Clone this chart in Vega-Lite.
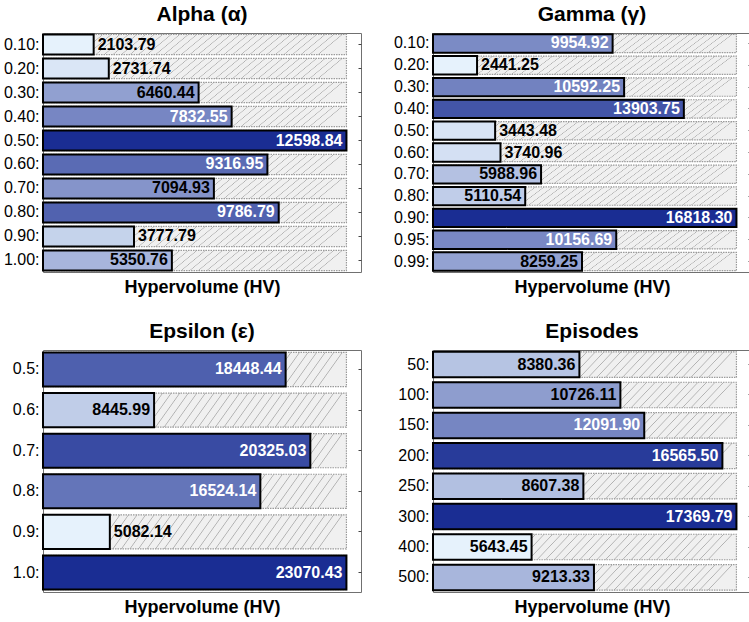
{
  "$schema": "https://vega.github.io/schema/vega-lite/v6.json",
  "padding": {"left": 2, "top": 3, "right": 0, "bottom": 0},
  "background": "white",
  "data": {
    "values": [
      {"panel": "Alpha", "param": "0.10", "hv": 2103.79},
      {"panel": "Alpha", "param": "0.20", "hv": 2731.74},
      {"panel": "Alpha", "param": "0.30", "hv": 6460.44},
      {"panel": "Alpha", "param": "0.40", "hv": 7832.55},
      {"panel": "Alpha", "param": "0.50", "hv": 12598.84},
      {"panel": "Alpha", "param": "0.60", "hv": 9316.95},
      {"panel": "Alpha", "param": "0.70", "hv": 7094.93},
      {"panel": "Alpha", "param": "0.80", "hv": 9786.79},
      {"panel": "Alpha", "param": "0.90", "hv": 3777.79},
      {"panel": "Alpha", "param": "1.00", "hv": 5350.76},
      {"panel": "Gamma", "param": "0.10", "hv": 9954.92},
      {"panel": "Gamma", "param": "0.20", "hv": 2441.25},
      {"panel": "Gamma", "param": "0.30", "hv": 10592.25},
      {"panel": "Gamma", "param": "0.40", "hv": 13903.75},
      {"panel": "Gamma", "param": "0.50", "hv": 3443.48},
      {"panel": "Gamma", "param": "0.60", "hv": 3740.96},
      {"panel": "Gamma", "param": "0.70", "hv": 5988.96},
      {"panel": "Gamma", "param": "0.80", "hv": 5110.54},
      {"panel": "Gamma", "param": "0.90", "hv": 16818.30},
      {"panel": "Gamma", "param": "0.95", "hv": 10156.69},
      {"panel": "Gamma", "param": "0.99", "hv": 8259.25},
      {"panel": "Epsilon", "param": "0.5", "hv": 18448.44},
      {"panel": "Epsilon", "param": "0.6", "hv": 8445.99},
      {"panel": "Epsilon", "param": "0.7", "hv": 20325.03},
      {"panel": "Epsilon", "param": "0.8", "hv": 16524.14},
      {"panel": "Epsilon", "param": "0.9", "hv": 5082.14},
      {"panel": "Epsilon", "param": "1.0", "hv": 23070.43},
      {"panel": "Episodes", "param": "50", "hv": 8380.36},
      {"panel": "Episodes", "param": "100", "hv": 10726.11},
      {"panel": "Episodes", "param": "150", "hv": 12091.90},
      {"panel": "Episodes", "param": "200", "hv": 16565.50},
      {"panel": "Episodes", "param": "250", "hv": 8607.38},
      {"panel": "Episodes", "param": "300", "hv": 17369.79},
      {"panel": "Episodes", "param": "400", "hv": 5643.45},
      {"panel": "Episodes", "param": "500", "hv": 9213.33}
    ]
  },
  "columns": 2,
  "spacing": {"row": 23, "column": 30},
  "concat": [
    {
      "title": "Alpha (α)",
      "width": 318,
      "height": 239,
      "transform": [
        {"filter": "datum.panel === 'Alpha'"},
        {"joinaggregate": [{"op": "max", "field": "hv", "as": "hvMax"}, {"op": "min", "field": "hv", "as": "hvMin"}]}
      ],
      "layer": [
        {
          "mark": {"type": "bar", "stroke": "#9a9a9a", "strokeWidth": 1.2, "strokeDash": [1.5, 1]},
          "encoding": {
            "x": {"field": "hvMax", "type": "quantitative", "scale": {"domain": [0, 13203], "nice": false, "zero": true},
                  "axis": {"title": "Hypervolume (HV)", "labels": false, "ticks": false, "domain": false, "grid": false}},
            "y": {"field": "param", "type": "nominal", "sort": null, "scale": {"paddingInner": 0.16, "paddingOuter": 0.06},
                  "axis": {"orient": "right", "title": null, "labels": false, "domain": false, "ticks": true, "tickSize": -3, "tickColor": "#444", "grid": false}}
          }
        },
        {
          "mark": {"type": "bar", "stroke": "black", "strokeWidth": 2, "strokeDash": [1, 0]},
          "encoding": {
            "x": {"field": "hv", "type": "quantitative"},
            "y": {"field": "param", "type": "nominal", "sort": null,
                  "axis": {"orient": "left", "title": null, "ticks": false, "domain": false, "labelExpr": "datum.label + ':'"}},
            "color": {"field": "hv", "type": "quantitative", "legend": null,
                      "scale": {"range": ["#e6f2fc", "#1a2d93"], "interpolate": "rgb", "nice": false, "zero": false}}
          }
        },
        {
          "transform": [{"filter": "datum.hv / datum.hvMax > 0.3"}],
          "mark": {"type": "text", "align": "right", "baseline": "middle", "dx": -4, "fontSize": 16, "fontWeight": "bold"},
          "encoding": {
            "x": {"field": "hv", "type": "quantitative"},
            "y": {"field": "param", "type": "nominal", "sort": null, "axis": null},
            "text": {"field": "hv", "type": "quantitative", "format": ".2f"},
            "color": {"condition": {"test": "(datum.hv - datum.hvMin) / (datum.hvMax - datum.hvMin) > 0.5", "value": "white"}, "value": "black"}
          }
        },
        {
          "transform": [{"filter": "datum.hv / datum.hvMax <= 0.3"}],
          "mark": {"type": "text", "align": "left", "baseline": "middle", "dx": 4, "fontSize": 16, "fontWeight": "bold", "color": "black"},
          "encoding": {
            "x": {"field": "hv", "type": "quantitative"},
            "y": {"field": "param", "type": "nominal", "sort": null, "axis": null},
            "text": {"field": "hv", "type": "quantitative", "format": ".2f"}
          }
        }
      ],
      "resolve": {"axis": {"y": "independent"}}
    },
    {
      "title": "Gamma (γ)",
      "width": 318,
      "height": 239,
      "transform": [
        {"filter": "datum.panel === 'Gamma'"},
        {"joinaggregate": [{"op": "max", "field": "hv", "as": "hvMax"}, {"op": "min", "field": "hv", "as": "hvMin"}]}
      ],
      "layer": [
        {
          "mark": {"type": "bar", "stroke": "#9a9a9a", "strokeWidth": 1.2, "strokeDash": [1.5, 1]},
          "encoding": {
            "x": {"field": "hvMax", "type": "quantitative", "scale": {"domain": [0, 17625], "nice": false, "zero": true},
                  "axis": {"title": "Hypervolume (HV)", "labels": false, "ticks": false, "domain": false, "grid": false}},
            "y": {"field": "param", "type": "nominal", "sort": null, "scale": {"paddingInner": 0.16, "paddingOuter": 0.06},
                  "axis": {"orient": "right", "title": null, "labels": false, "domain": false, "ticks": true, "tickSize": -3, "tickColor": "#444", "grid": false}}
          }
        },
        {
          "mark": {"type": "bar", "stroke": "black", "strokeWidth": 2, "strokeDash": [1, 0]},
          "encoding": {
            "x": {"field": "hv", "type": "quantitative"},
            "y": {"field": "param", "type": "nominal", "sort": null,
                  "axis": {"orient": "left", "title": null, "ticks": false, "domain": false, "labelExpr": "datum.label + ':'"}},
            "color": {"field": "hv", "type": "quantitative", "legend": null,
                      "scale": {"range": ["#e6f2fc", "#1a2d93"], "interpolate": "rgb", "nice": false, "zero": false}}
          }
        },
        {
          "transform": [{"filter": "datum.hv / datum.hvMax > 0.3"}],
          "mark": {"type": "text", "align": "right", "baseline": "middle", "dx": -4, "fontSize": 16, "fontWeight": "bold"},
          "encoding": {
            "x": {"field": "hv", "type": "quantitative"},
            "y": {"field": "param", "type": "nominal", "sort": null, "axis": null},
            "text": {"field": "hv", "type": "quantitative", "format": ".2f"},
            "color": {"condition": {"test": "(datum.hv - datum.hvMin) / (datum.hvMax - datum.hvMin) > 0.5", "value": "white"}, "value": "black"}
          }
        },
        {
          "transform": [{"filter": "datum.hv / datum.hvMax <= 0.3"}],
          "mark": {"type": "text", "align": "left", "baseline": "middle", "dx": 4, "fontSize": 16, "fontWeight": "bold", "color": "black"},
          "encoding": {
            "x": {"field": "hv", "type": "quantitative"},
            "y": {"field": "param", "type": "nominal", "sort": null, "axis": null},
            "text": {"field": "hv", "type": "quantitative", "format": ".2f"}
          }
        }
      ],
      "resolve": {"axis": {"y": "independent"}}
    },
    {
      "title": "Epsilon (ε)",
      "width": 318,
      "height": 242,
      "transform": [
        {"filter": "datum.panel === 'Epsilon'"},
        {"joinaggregate": [{"op": "max", "field": "hv", "as": "hvMax"}, {"op": "min", "field": "hv", "as": "hvMin"}]}
      ],
      "layer": [
        {
          "mark": {"type": "bar", "stroke": "#9a9a9a", "strokeWidth": 1.2, "strokeDash": [1.5, 1]},
          "encoding": {
            "x": {"field": "hvMax", "type": "quantitative", "scale": {"domain": [0, 24178], "nice": false, "zero": true},
                  "axis": {"title": "Hypervolume (HV)", "labels": false, "ticks": false, "domain": false, "grid": false}},
            "y": {"field": "param", "type": "nominal", "sort": null, "scale": {"paddingInner": 0.16, "paddingOuter": 0.06},
                  "axis": {"orient": "right", "title": null, "labels": false, "domain": false, "ticks": true, "tickSize": -3, "tickColor": "#444", "grid": false}}
          }
        },
        {
          "mark": {"type": "bar", "stroke": "black", "strokeWidth": 2, "strokeDash": [1, 0]},
          "encoding": {
            "x": {"field": "hv", "type": "quantitative"},
            "y": {"field": "param", "type": "nominal", "sort": null,
                  "axis": {"orient": "left", "title": null, "ticks": false, "domain": false, "labelExpr": "datum.label + ':'"}},
            "color": {"field": "hv", "type": "quantitative", "legend": null,
                      "scale": {"range": ["#e6f2fc", "#1a2d93"], "interpolate": "rgb", "nice": false, "zero": false}}
          }
        },
        {
          "transform": [{"filter": "datum.hv / datum.hvMax > 0.3"}],
          "mark": {"type": "text", "align": "right", "baseline": "middle", "dx": -4, "fontSize": 16, "fontWeight": "bold"},
          "encoding": {
            "x": {"field": "hv", "type": "quantitative"},
            "y": {"field": "param", "type": "nominal", "sort": null, "axis": null},
            "text": {"field": "hv", "type": "quantitative", "format": ".2f"},
            "color": {"condition": {"test": "(datum.hv - datum.hvMin) / (datum.hvMax - datum.hvMin) > 0.5", "value": "white"}, "value": "black"}
          }
        },
        {
          "transform": [{"filter": "datum.hv / datum.hvMax <= 0.3"}],
          "mark": {"type": "text", "align": "left", "baseline": "middle", "dx": 4, "fontSize": 16, "fontWeight": "bold", "color": "black"},
          "encoding": {
            "x": {"field": "hv", "type": "quantitative"},
            "y": {"field": "param", "type": "nominal", "sort": null, "axis": null},
            "text": {"field": "hv", "type": "quantitative", "format": ".2f"}
          }
        }
      ],
      "resolve": {"axis": {"y": "independent"}}
    },
    {
      "title": "Episodes",
      "width": 318,
      "height": 242,
      "transform": [
        {"filter": "datum.panel === 'Episodes'"},
        {"joinaggregate": [{"op": "max", "field": "hv", "as": "hvMax"}, {"op": "min", "field": "hv", "as": "hvMin"}]}
      ],
      "layer": [
        {
          "mark": {"type": "bar", "stroke": "#9a9a9a", "strokeWidth": 1.2, "strokeDash": [1.5, 1]},
          "encoding": {
            "x": {"field": "hvMax", "type": "quantitative", "scale": {"domain": [0, 18203], "nice": false, "zero": true},
                  "axis": {"title": "Hypervolume (HV)", "labels": false, "ticks": false, "domain": false, "grid": false}},
            "y": {"field": "param", "type": "nominal", "sort": null, "scale": {"paddingInner": 0.16, "paddingOuter": 0.06},
                  "axis": {"orient": "right", "title": null, "labels": false, "domain": false, "ticks": true, "tickSize": -3, "tickColor": "#444", "grid": false}}
          }
        },
        {
          "mark": {"type": "bar", "stroke": "black", "strokeWidth": 2, "strokeDash": [1, 0]},
          "encoding": {
            "x": {"field": "hv", "type": "quantitative"},
            "y": {"field": "param", "type": "nominal", "sort": null,
                  "axis": {"orient": "left", "title": null, "ticks": false, "domain": false, "labelExpr": "datum.label + ':'"}},
            "color": {"field": "hv", "type": "quantitative", "legend": null,
                      "scale": {"range": ["#e6f2fc", "#1a2d93"], "interpolate": "rgb", "nice": false, "zero": false}}
          }
        },
        {
          "transform": [{"filter": "datum.hv / datum.hvMax > 0.3"}],
          "mark": {"type": "text", "align": "right", "baseline": "middle", "dx": -4, "fontSize": 16, "fontWeight": "bold"},
          "encoding": {
            "x": {"field": "hv", "type": "quantitative"},
            "y": {"field": "param", "type": "nominal", "sort": null, "axis": null},
            "text": {"field": "hv", "type": "quantitative", "format": ".2f"},
            "color": {"condition": {"test": "(datum.hv - datum.hvMin) / (datum.hvMax - datum.hvMin) > 0.5", "value": "white"}, "value": "black"}
          }
        },
        {
          "transform": [{"filter": "datum.hv / datum.hvMax <= 0.3"}],
          "mark": {"type": "text", "align": "left", "baseline": "middle", "dx": 4, "fontSize": 16, "fontWeight": "bold", "color": "black"},
          "encoding": {
            "x": {"field": "hv", "type": "quantitative"},
            "y": {"field": "param", "type": "nominal", "sort": null, "axis": null},
            "text": {"field": "hv", "type": "quantitative", "format": ".2f"}
          }
        }
      ],
      "resolve": {"axis": {"y": "independent"}}
    }
  ],
  "resolve": {"scale": {"x": "independent", "y": "independent", "color": "independent"}},
  "config": {
    "font": "Liberation Sans",
    "view": {"stroke": "#707070", "strokeWidth": 1},
    "title": {"fontSize": 21, "fontWeight": "bold", "color": "black", "anchor": "middle", "offset": 8},
    "axis": {
      "labelFontSize": 16, "labelFontWeight": "normal", "labelColor": "black", "labelPadding": 4,
      "titleFontSize": 18, "titleFontWeight": "bold", "titleColor": "black", "titlePadding": 6
    },
    "bar": {
      "fill": {
        "gradient": "linear", "x1": 0, "y1": 0, "x2": 1, "y2": 0.08,
        "stops": [
          {"offset": 0, "color": "#f0f0f0"},
          {"offset": 0.025, "color": "#f0f0f0"}, {"offset": 0.028, "color": "#b0b0b0"}, {"offset": 0.031, "color": "#f0f0f0"},
          {"offset": 0.053, "color": "#f0f0f0"}, {"offset": 0.056, "color": "#b0b0b0"}, {"offset": 0.059, "color": "#f0f0f0"},
          {"offset": 0.081, "color": "#f0f0f0"}, {"offset": 0.084, "color": "#b0b0b0"}, {"offset": 0.087, "color": "#f0f0f0"},
          {"offset": 0.109, "color": "#f0f0f0"}, {"offset": 0.112, "color": "#b0b0b0"}, {"offset": 0.115, "color": "#f0f0f0"},
          {"offset": 0.137, "color": "#f0f0f0"}, {"offset": 0.140, "color": "#b0b0b0"}, {"offset": 0.143, "color": "#f0f0f0"},
          {"offset": 0.165, "color": "#f0f0f0"}, {"offset": 0.168, "color": "#b0b0b0"}, {"offset": 0.171, "color": "#f0f0f0"},
          {"offset": 0.193, "color": "#f0f0f0"}, {"offset": 0.196, "color": "#b0b0b0"}, {"offset": 0.199, "color": "#f0f0f0"},
          {"offset": 0.221, "color": "#f0f0f0"}, {"offset": 0.224, "color": "#b0b0b0"}, {"offset": 0.227, "color": "#f0f0f0"},
          {"offset": 0.249, "color": "#f0f0f0"}, {"offset": 0.252, "color": "#b0b0b0"}, {"offset": 0.255, "color": "#f0f0f0"},
          {"offset": 0.277, "color": "#f0f0f0"}, {"offset": 0.280, "color": "#b0b0b0"}, {"offset": 0.283, "color": "#f0f0f0"},
          {"offset": 0.305, "color": "#f0f0f0"}, {"offset": 0.308, "color": "#b0b0b0"}, {"offset": 0.311, "color": "#f0f0f0"},
          {"offset": 0.333, "color": "#f0f0f0"}, {"offset": 0.336, "color": "#b0b0b0"}, {"offset": 0.339, "color": "#f0f0f0"},
          {"offset": 0.361, "color": "#f0f0f0"}, {"offset": 0.364, "color": "#b0b0b0"}, {"offset": 0.367, "color": "#f0f0f0"},
          {"offset": 0.389, "color": "#f0f0f0"}, {"offset": 0.392, "color": "#b0b0b0"}, {"offset": 0.395, "color": "#f0f0f0"},
          {"offset": 0.417, "color": "#f0f0f0"}, {"offset": 0.420, "color": "#b0b0b0"}, {"offset": 0.423, "color": "#f0f0f0"},
          {"offset": 0.445, "color": "#f0f0f0"}, {"offset": 0.448, "color": "#b0b0b0"}, {"offset": 0.451, "color": "#f0f0f0"},
          {"offset": 0.473, "color": "#f0f0f0"}, {"offset": 0.476, "color": "#b0b0b0"}, {"offset": 0.479, "color": "#f0f0f0"},
          {"offset": 0.501, "color": "#f0f0f0"}, {"offset": 0.504, "color": "#b0b0b0"}, {"offset": 0.507, "color": "#f0f0f0"},
          {"offset": 0.529, "color": "#f0f0f0"}, {"offset": 0.532, "color": "#b0b0b0"}, {"offset": 0.535, "color": "#f0f0f0"},
          {"offset": 0.557, "color": "#f0f0f0"}, {"offset": 0.560, "color": "#b0b0b0"}, {"offset": 0.563, "color": "#f0f0f0"},
          {"offset": 0.585, "color": "#f0f0f0"}, {"offset": 0.588, "color": "#b0b0b0"}, {"offset": 0.591, "color": "#f0f0f0"},
          {"offset": 0.613, "color": "#f0f0f0"}, {"offset": 0.616, "color": "#b0b0b0"}, {"offset": 0.619, "color": "#f0f0f0"},
          {"offset": 0.641, "color": "#f0f0f0"}, {"offset": 0.644, "color": "#b0b0b0"}, {"offset": 0.647, "color": "#f0f0f0"},
          {"offset": 0.669, "color": "#f0f0f0"}, {"offset": 0.672, "color": "#b0b0b0"}, {"offset": 0.675, "color": "#f0f0f0"},
          {"offset": 0.697, "color": "#f0f0f0"}, {"offset": 0.700, "color": "#b0b0b0"}, {"offset": 0.703, "color": "#f0f0f0"},
          {"offset": 0.725, "color": "#f0f0f0"}, {"offset": 0.728, "color": "#b0b0b0"}, {"offset": 0.731, "color": "#f0f0f0"},
          {"offset": 0.753, "color": "#f0f0f0"}, {"offset": 0.756, "color": "#b0b0b0"}, {"offset": 0.759, "color": "#f0f0f0"},
          {"offset": 0.781, "color": "#f0f0f0"}, {"offset": 0.784, "color": "#b0b0b0"}, {"offset": 0.787, "color": "#f0f0f0"},
          {"offset": 0.809, "color": "#f0f0f0"}, {"offset": 0.812, "color": "#b0b0b0"}, {"offset": 0.815, "color": "#f0f0f0"},
          {"offset": 0.837, "color": "#f0f0f0"}, {"offset": 0.840, "color": "#b0b0b0"}, {"offset": 0.843, "color": "#f0f0f0"},
          {"offset": 0.865, "color": "#f0f0f0"}, {"offset": 0.868, "color": "#b0b0b0"}, {"offset": 0.871, "color": "#f0f0f0"},
          {"offset": 0.893, "color": "#f0f0f0"}, {"offset": 0.896, "color": "#b0b0b0"}, {"offset": 0.899, "color": "#f0f0f0"},
          {"offset": 0.921, "color": "#f0f0f0"}, {"offset": 0.924, "color": "#b0b0b0"}, {"offset": 0.927, "color": "#f0f0f0"},
          {"offset": 0.949, "color": "#f0f0f0"}, {"offset": 0.952, "color": "#b0b0b0"}, {"offset": 0.955, "color": "#f0f0f0"},
          {"offset": 0.977, "color": "#f0f0f0"}, {"offset": 0.980, "color": "#b0b0b0"}, {"offset": 0.983, "color": "#f0f0f0"},
          {"offset": 1, "color": "#f0f0f0"}
        ]
      }
    }
  }
}
